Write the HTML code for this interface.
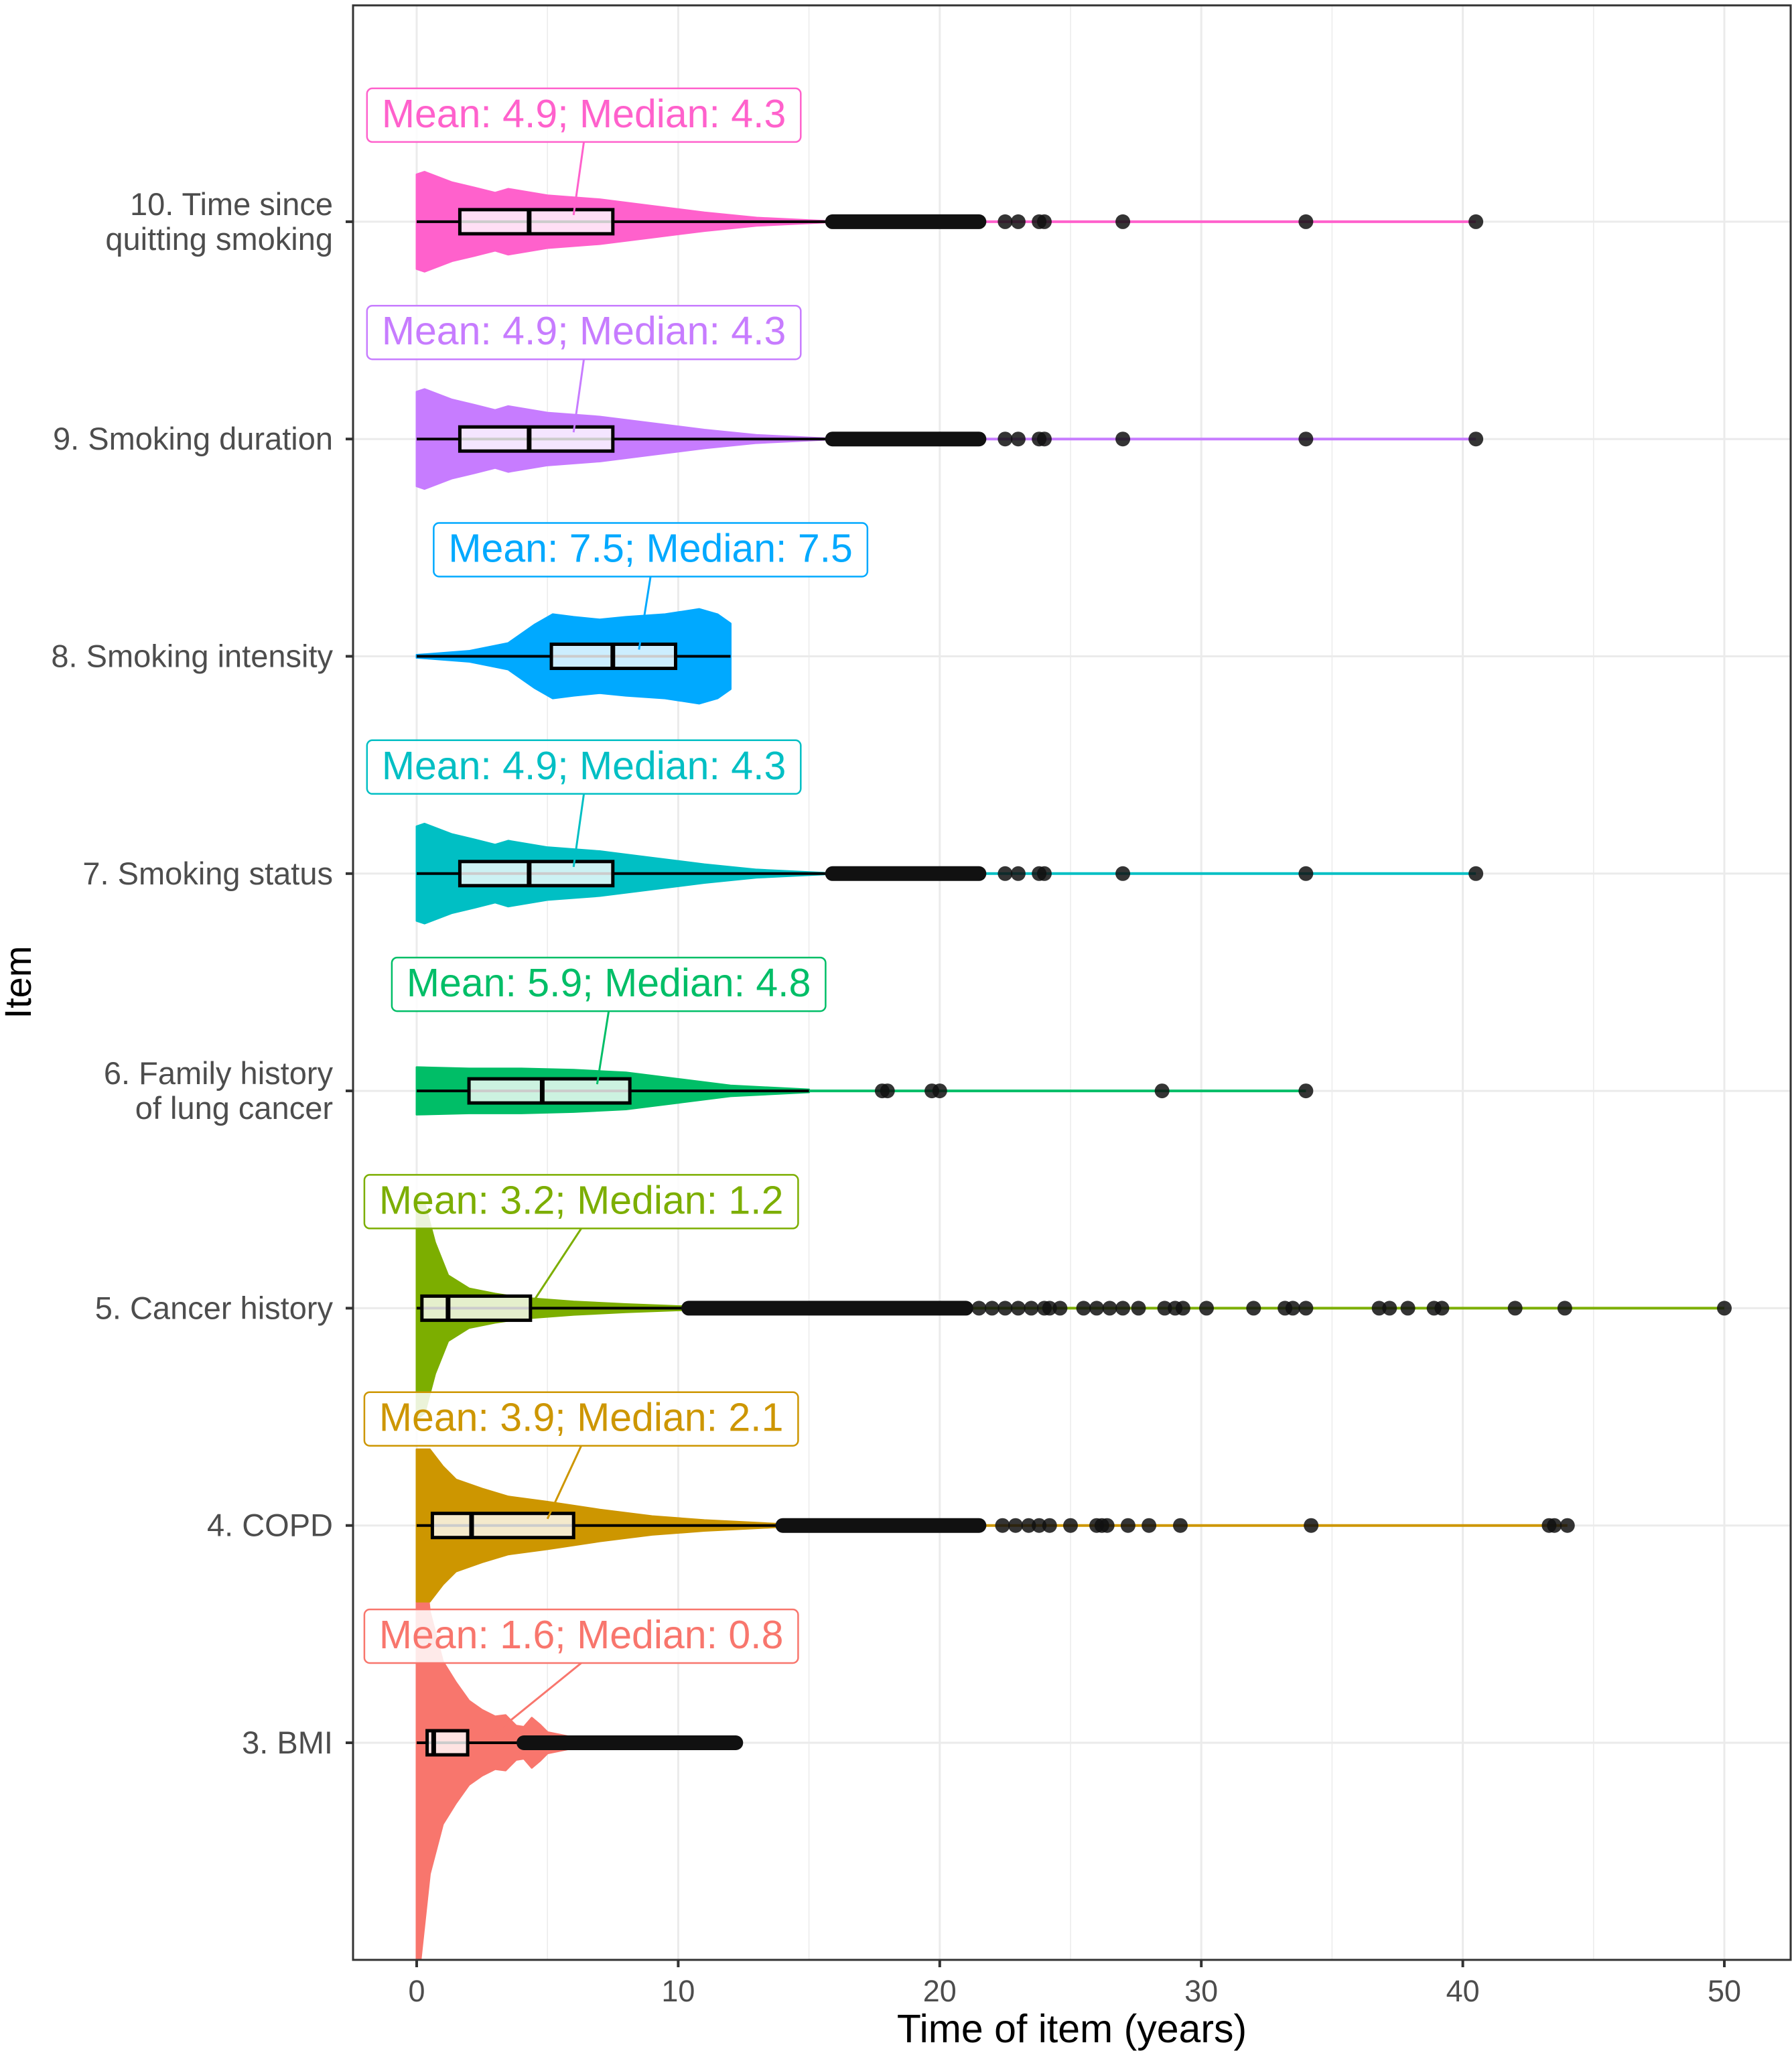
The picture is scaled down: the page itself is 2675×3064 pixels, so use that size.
<!DOCTYPE html>
<html><head><meta charset="utf-8"><style>
html,body{margin:0;padding:0;background:#fff;}
svg{display:block;font-family:"Liberation Sans",Arial,sans-serif;}
</style></head><body>
<svg id="chart" width="2675" height="3064" viewBox="0 0 2675 3064" xmlns="http://www.w3.org/2000/svg"></svg>
<script>
const items = ["3. BMI","4. COPD","5. Cancer history","6. Family history|of lung cancer","7. Smoking status","8. Smoking intensity","9. Smoking duration","10. Time since|quitting smoking"];
const colors = ["#F8766D","#CD9600","#7CAE00","#00BE67","#00BFC4","#00A9FF","#C77CFF","#FF61CC"];
const means = [1.6,3.9,3.2,5.9,4.9,7.5,4.9,4.9];
const medians = [0.65,2.1,1.2,4.8,4.3,7.5,4.3,4.3];
const q1s = [0.4,0.6,0.2,2.0,1.65,5.15,1.65,1.65];
const q3s = [1.95,6.0,4.35,8.15,7.5,9.9,7.5,7.5];
const whiskLo = [0,0,0,0,0,0,0,0];
const whiskHi = [4.1,14.0,10.4,15.0,15.9,12.0,15.9,15.9];
const medianLabels = [0.8,2.1,1.2,4.8,4.3,7.5,4.3,4.3];
const denseOut = [[4.1,12.2],[14.0,21.5],[10.4,21.0],null,[15.9,21.5],null,[15.9,21.5],[15.9,21.5]];
const outliers = [
 [],
 [22.4,22.9,23.4,23.8,24.2,25,26,26.2,26.4,27.2,28,29.2,34.2,43.3,43.5,44],
 [21.5,22,22.5,23,23.5,24,24.2,24.6,25.5,26,26.5,27,27.6,28.6,29,29.3,30.2,32,33.2,33.5,34,36.8,37.2,37.9,38.9,39.2,42,43.9,50],
 [17.8,18.0,19.7,20.0,28.5,34],
 [22.5,23,23.8,24,27,34,40.5],
 [],
 [22.5,23,23.8,24,27,34,40.5],
 [22.5,23,23.8,24,27,34,40.5]
];
const violins = [
 [[0,170],[0.15,165],[0.5,100],[1,62],[1.5,46],[2,32],[2.5,25],[3,20],[3.4,21],[3.8,13],[4.1,12],[4.4,19],[4.7,14],[5,8],[6,4],[7,1]],
 [[0,58],[0.5,58],[1,45],[1.5,35],[2.5,28],[3.5,22],[5,18],[7,12],[9,7],[11,4],[14,1]],
 [[0,85],[0.3,80],[0.7,50],[1.2,25],[2,15],[3,11],[4,8],[6,5],[8,3],[10,1.5],[12,0.5]],
 [[0,18],[2,17],[4,17],[6,16],[8,14],[10,9],[12,4],[15,1]],
 [[0,36],[0.3,38],[1.35,30],[2.2,26],[3,22],[3.5,25],[5,20],[7,17],[9,12],[11,7],[13,3],[15.6,0.5]],
 [[0,1],[2,4],[3.5,10],[4.5,24],[5.2,32],[6,30],[7,28],[8,30],[9.5,32],[10.8,36],[11.5,32],[12,25]],
 [[0,36],[0.3,38],[1.35,30],[2.2,26],[3,22],[3.5,25],[5,20],[7,17],[9,12],[11,7],[13,3],[15.6,0.5]],
 [[0,36],[0.3,38],[1.35,30],[2.2,26],[3,22],[3.5,25],[5,20],[7,17],[9,12],[11,7],[13,3],[15.6,0.5]]
];
const labelLeft = [-2.0,-2.0,-2.0,-0.95,-1.9,0.65,-1.9,-1.9];
const labelPointX = [2.85,5.0,4.46,6.9,6.0,8.5,6.0,6.0];
const xTicks = [0,10,20,30,40,50];
const xMinor = [5,15,25,35,45];

const NS="http://www.w3.org/2000/svg", svg=document.getElementById('chart');
const PL=527,PR=2673,PT=8,PB=2925;
const WS=1.956;
const X=v=>622+v*39.04;
const Y=i=>2601-i*324.3;
function el(t,a,p){const e=document.createElementNS(NS,t);for(const k in a)e.setAttribute(k,a[k]);(p||svg).appendChild(e);return e;}
const defs=el('defs',{});const cp=el('clipPath',{id:'pc'},defs);el('rect',{x:PL,y:PT,width:PR-PL,height:PB-PT},cp);
const grid=el('g',{});


xMinor.forEach(v=>el('line',{x1:X(v),x2:X(v),y1:PT,y2:PB,stroke:'#ebebeb','stroke-width':1.5},grid));
xTicks.forEach(v=>el('line',{x1:X(v),x2:X(v),y1:PT,y2:PB,stroke:'#ebebeb','stroke-width':3},grid));
items.forEach((_,i)=>el('line',{x1:PL,x2:PR,y1:Y(i),y2:Y(i),stroke:'#ebebeb','stroke-width':3},grid));
const plot=el('g',{'clip-path':'url(#pc)'});
items.forEach((name,i)=>{
  const g=el('g',{},plot);
  
  
  const y=Y(i),v=violins[i];
  let d='M'+v.map(p=>X(p[0])+','+(y-p[1]*WS)).join(' L');
  d+=' L'+v.slice().reverse().map(p=>X(p[0])+','+(y+p[1]*WS)).join(' L')+'Z';
  const vp=el('path',{d:d,fill:colors[i],stroke:colors[i],'stroke-width':3,'stroke-linejoin':'round'},g);
  
  
  const all=outliers[i].concat(denseOut[i]?[denseOut[i][1]]:[]);
  const mx=Math.max(whiskHi[i],...all);
  el('line',{x1:X(whiskHi[i]),x2:X(mx),y1:y,y2:y,stroke:colors[i],'stroke-width':4},g);
  el('line',{x1:X(whiskLo[i]),x2:X(whiskHi[i]),y1:y,y2:y,stroke:'#000','stroke-width':4},g);
  const bx=el('rect',{x:X(q1s[i]),y:y-18,width:X(q3s[i])-X(q1s[i]),height:36,fill:'rgba(255,255,255,0.8)',stroke:'#000','stroke-width':5},g);
  
  
  el('line',{x1:X(medians[i]),x2:X(medians[i]),y1:y-18,y2:y+18,stroke:'#000','stroke-width':7},g);
  if(denseOut[i]){const r=el('line',{x1:X(denseOut[i][0]),x2:X(denseOut[i][1]),y1:y,y2:y,stroke:'#111','stroke-width':22,'stroke-linecap':'round'},g);
    
    }
  outliers[i].forEach(o=>{const c=el('circle',{cx:X(o),cy:y,r:11,fill:'#111','fill-opacity':0.85},g);
    
    });
});
items.forEach((name,i)=>{
  const y=Y(i),g=el('g',{});
  
  
  const lx=X(labelLeft[i]),top=y-199,h=80;
  const txt='Mean: '+means[i].toFixed(1)+'; Median: '+medianLabels[i].toFixed(1);
  const rect=el('rect',{x:lx,y:top,width:100,height:h,rx:8,fill:'rgba(255,255,255,0.85)',stroke:colors[i],'stroke-width':2.5},g);
  const t=el('text',{x:lx+22,y:top+58,'font-size':59,fill:colors[i]},g);t.textContent=txt;
  const w=t.getComputedTextLength();rect.setAttribute('width',w+44);
  el('line',{x1:lx+(w+44)*0.5,y1:top+h,x2:X(labelPointX[i]),y2:y-10,stroke:colors[i],'stroke-width':3},g);
  const lines=name.split('|');
  lines.forEach((ln,k)=>{const tt=el('text',{x:497,y:y+16+(k-(lines.length-1)/2)*52,'text-anchor':'end','font-size':47,fill:'#4d4d4d'});tt.textContent=ln;
    
    });
  el('line',{x1:PL-11,x2:PL,y1:y,y2:y,stroke:'#333','stroke-width':4});
});
el('rect',{x:PL,y:PT,width:PR-PL,height:PB-PT,fill:'none',stroke:'#333','stroke-width':3});
xTicks.forEach(v=>{el('line',{x1:X(v),x2:X(v),y1:PB,y2:PB+11,stroke:'#333','stroke-width':4});
  const t=el('text',{x:X(v),y:PB+62,'text-anchor':'middle','font-size':45,fill:'#4d4d4d'});t.textContent=v;
  
  });
const xt=el('text',{x:1600,y:3048,'text-anchor':'middle','font-size':59,fill:'#000'});xt.textContent='Time of item (years)';


const yt=el('text',{x:0,y:0,transform:'translate(46,1466) rotate(-90)','text-anchor':'middle','font-size':56,fill:'#000'});yt.textContent='Item';


</script>
</body></html>
